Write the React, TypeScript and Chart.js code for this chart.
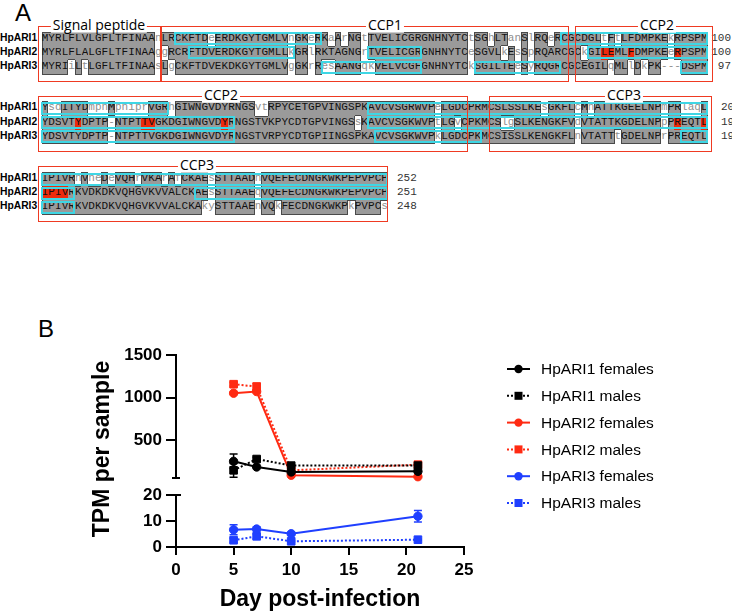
import React, { useEffect, useRef } from "react";
import { Chart, registerables } from "chart.js";
Chart.register(...registerables);

// ---------------- Panel B data ----------------
const days = [5, 7, 10, 21];
const seriesLabels = [
  "HpARI1 females",
  "HpARI1 males",
  "HpARI2 females",
  "HpARI2 males",
  "HpARI3 females",
  "HpARI3 males",
];
const ari1Females = [255, 189, 131, 138];
const ari1FemalesErr = [85, 0, 0, 0];
const ari1Males = [150, 282, 205, 205];
const ari1MalesErr = [80, 20, 0, 0];
const ari2Females = [1053, 1072, 92, 75];
const ari2FemalesErr = [15, 15, 0, 0];
const ari2Males = [1158, 1130, 150, 216];
const ari2MalesErr = [20, 40, 0, 0];
const ari3Females = [6.6, 6.9, 5.1, 11.8];
const ari3FemalesErr = [1.9, 0.8, 0.5, 2.2];
const ari3Males = [2.6, 4.1, 2.2, 2.8];
const ari3MalesErr = [0.8, 0.9, 0.3, 0.3];
const xTicks = [0, 5, 10, 15, 20, 25];
const upperTicks = [500, 1000, 1500];
const lowerTicks = [0, 10, 20];
const xTitle = "Day post-infection";
const yTitle = "TPM per sample";

// ---------------- Panel A data ----------------
const seqNames = ["HpARI1", "HpARI2", "HpARI3"];
const block1 = [
  "MYRLFLVLGFLTFINAAnLRCKFTDeERDKGYTGMLVnGKeRKaArNGtTVELICGRGNHNYTCtSGhLTanSlRQeRCGCDGLtFtLFDMPKEkRPSPM",
  "MYRLFLALGFLTFINAAggRCRFTDVERDKGYTGMLLkGRlRKTAGNGrTVELICGRGNHNYTCeSGVLkEsSpRQARCGCkGILEMLFDMPKEeRPSPM",
  "MYRIiLtLGFLTFINAAsLgCKFTDVEKDKGYTGMLVgGKrResAANGqkVELVCGFGNHNYTCkSGILTEeSyRQGRCGCEGILqMLlDkPK---DSPM",
];
const block2 = [
  "YsdITYDmpnMpniprVGRhGIWNGVDYRNGSvtRPYCETGPVINGSPKAVCVSGRWVPeLGDCPRMCSLSSLKEsGKFLcMnATTKGEELNPmPRlaqL",
  "YDSVTYDPTP-NTPTTVGKDGIWNGVDYRNGSTVKPYCDTGPVINGSsKAVCVSGKWVPtLGvCPKMCSlgSLKENGKFVdVTATTKGDELNPpPREQTL",
  "YDSVTYDPTP-NTPTTVGKDGIWNGVDYRNGSTVRPYCDTGPIINGSPKAVCVSGKWVPkLGDCPKMCSISSLKENGKFLnVTATTtGDELNPrPREQTL",
];
const block3 = [
  "IPIVRnVneDeVQHrVKArAfCKAEsSTTAADnVQEFECDNGKWKPEPVPCP",
  "IPIVRKVDKDKVQHGVKVVALCKAEsSTTAAEqVQEFECDNGKWKPEPVPCP",
  "IPIVRKVDKDKVQHGVKVVALCKAkySTTAAEnVQkFECDNGKWKPkPVPCs",
];
const blocks = [block1, block2, block3];
const endNumbers = [
  ["100", "100", "97"],
  ["200", "199", "196"],
  ["252", "251", "248"],
];
// [block, row, startCol, endCol]
const cyanSegments = [
  [0, 0, 21, 42], [0, 0, 79, 100], [0, 1, 23, 38], [0, 1, 50, 57], [0, 1, 83, 100],
  [0, 2, 43, 57], [0, 2, 66, 78], [0, 2, 97, 100],
  [1, 0, 1, 19], [1, 0, 50, 100], [1, 1, 1, 29], [1, 1, 50, 100], [1, 2, 1, 29],
  [1, 2, 51, 66], [1, 2, 97, 100],
  [2, 0, 1, 52], [2, 1, 1, 5], [2, 1, 24, 52], [2, 2, 1, 5],
];
// [block, row, col]
const redResidues = [
  [0, 1, 85], [0, 1, 86], [0, 1, 89], [0, 1, 96],
  [1, 1, 6], [1, 1, 16], [1, 1, 17], [1, 1, 28], [1, 1, 96], [1, 1, 100],
  [2, 1, 1], [2, 1, 2], [2, 1, 3], [2, 1, 4],
];
const domainLabels = ["Signal peptide", "CCP1", "CCP2", "CCP2", "CCP3", "CCP3"];

// ---------------- layout / style ----------------
const FONT = "'Liberation Sans', Arial, Helvetica, sans-serif";
const MONO = "'Liberation Mono', 'DejaVu Sans Mono', monospace";
const LABEL_FONT = "'Open Sans', 'Liberation Sans', sans-serif";
const CH_W = 6.66;
const SEQ_X = 41.5;
const ROW_H = 14.2;
const blockTops = [31.6, 101.4, 171.9];
const numberPos = [
  { left: 690, width: 41, align: "right" },
  { left: 721, width: 30, align: "left" },
  { left: 397, width: 30, align: "left" },
];
const frames = [
  { l: 38, t: 26, r: 161, b: 82, cx: 99 },
  { l: 161, t: 26, r: 569, b: 82, cx: 385 },
  { l: 575, t: 26, r: 713, b: 82, cx: 657 },
  { l: 38, t: 96, r: 468, b: 152, cx: 221 },
  { l: 489, t: 96, r: 712, b: 152, cx: 624 },
  { l: 38, t: 166, r: 388, b: 222, cx: 197 },
];
const BLACK = "#000000";
const RED = "#ff2a12";
const BLUE = "#1f3fff";
const FRAME_RED = "#ef3a22";
const CYAN = "#3ed6e4";

const isUp = (ch?: string) => !!ch && ch >= "A" && ch <= "Z";

function Alignment() {
  const els: any[] = [];
  blocks.forEach((seqs, b) => {
    const top0 = blockTops[b];
    seqs.forEach((s, r) => {
      const rowTop = top0 + r * ROW_H;
      els.push(
        <div
          key={`n${b}${r}`}
          style={{
            position: "absolute",
            left: 0,
            top: rowTop,
            height: ROW_H,
            lineHeight: `${ROW_H}px`,
            font: `bold 10.3px ${FONT}`,
            color: "#000",
          }}
        >
          {seqNames[r]}
        </div>
      );
      for (let c = 0; c < s.length; c++) {
        const ch = s[c];
        const up = isUp(ch);
        const red = redResidues.some((e) => e[0] === b && e[1] === r && e[2] === c + 1);
        const sh: string[] = [];
        if (up) {
          if (!isUp(s[c - 1])) sh.push("inset 1px 0 0 #4a4a4a");
          if (!isUp(s[c + 1])) sh.push("inset -1px 0 0 #4a4a4a");
          if (r === 0 || !isUp(seqs[r - 1][c])) sh.push("inset 0 1px 0 #4a4a4a");
          if (r === seqs.length - 1 || !isUp(seqs[r + 1][c])) sh.push("inset 0 -1px 0 #4a4a4a");
        }
        els.push(
          <div
            key={`c${b}${r}${c}`}
            style={{
              position: "absolute",
              left: SEQ_X + c * CH_W,
              top: rowTop,
              width: CH_W + 0.3,
              height: ROW_H + 0.3,
              lineHeight: `${ROW_H}px`,
              textAlign: "center",
              font: `11px ${MONO}`,
              background: red ? "#ee2a0c" : up ? "#9a9a9a" : "transparent",
              color: up ? "#111" : "#8f8f8f",
              boxShadow: sh.join(","),
              boxSizing: "border-box",
            }}
          >
            {ch}
          </div>
        );
      }
      const np = numberPos[b];
      els.push(
        <div
          key={`e${b}${r}`}
          style={{
            position: "absolute",
            left: np.left,
            width: np.width,
            textAlign: np.align as any,
            top: rowTop,
            lineHeight: `${ROW_H}px`,
            font: `11px ${MONO}`,
            color: "#333",
            whiteSpace: "nowrap",
          }}
        >
          {endNumbers[b][r]}
        </div>
      );
    });
  });
  cyanSegments.forEach(([b, r, s, e], i) => {
    const rowTop = blockTops[b] + r * ROW_H;
    els.push(
      <div
        key={`cy${i}`}
        style={{
          position: "absolute",
          left: SEQ_X + (s - 1) * CH_W - 0.5,
          top: rowTop + 0.6,
          width: (e - s + 1) * CH_W + 1,
          height: ROW_H - 1.2,
          border: `2px solid ${CYAN}`,
          boxSizing: "border-box",
        }}
      />
    );
  });
  frames.forEach((f, i) => {
    els.push(
      <div
        key={`f${i}`}
        style={{
          position: "absolute",
          left: f.l,
          top: f.t,
          width: f.r - f.l,
          height: f.b - f.t,
          border: `1.6px solid ${FRAME_RED}`,
          boxSizing: "border-box",
        }}
      />
    );
    els.push(
      <div
        key={`fl${i}`}
        style={{
          position: "absolute",
          left: f.cx,
          top: f.t,
          transform: "translate(-50%, -58%)",
          background: "#fff",
          padding: "0 2px",
          font: `14px ${LABEL_FONT}`,
          lineHeight: "16px",
          color: "#000",
          whiteSpace: "nowrap",
        }}
      >
        {domainLabels[i]}
      </div>
    );
  });
  return <>{els}</>;
}

function makeDataset(
  label: string,
  values: number[],
  errs: number[],
  color: string,
  male: boolean,
  axis: string
) {
  return {
    label,
    data: days.map((d, i) => ({ x: d, y: values[i] })),
    errors: errs,
    yAxisID: axis,
    borderColor: color,
    backgroundColor: color,
    pointBackgroundColor: color,
    pointBorderColor: color,
    pointStyle: male ? "rect" : "circle",
    pointRadius: male ? 5.4 : 4.2,
    pointBorderWidth: 1,
    borderWidth: 2,
    borderDash: male ? [2, 2] : [],
    tension: 0,
    clip: false,
  };
}

const errorBarPlugin = {
  id: "errorBars",
  beforeDatasetsDraw(chart: any) {
    const ctx = chart.ctx;
    chart.data.datasets.forEach((ds: any, i: number) => {
      const meta = chart.getDatasetMeta(i);
      const scale = chart.scales[ds.yAxisID];
      meta.data.forEach((pt: any, j: number) => {
        const e = ds.errors[j];
        if (!e) return;
        const v = ds.data[j].y;
        let y1 = scale.getPixelForValue(v + e);
        let y2 = scale.getPixelForValue(v - e);
        const cap1 = y1 >= scale.top;
        const cap2 = y2 <= scale.bottom;
        y1 = Math.max(y1, scale.top);
        y2 = Math.min(y2, scale.bottom);
        ctx.save();
        ctx.strokeStyle = ds.borderColor;
        ctx.lineWidth = 1.5;
        ctx.beginPath();
        ctx.moveTo(pt.x, y1);
        ctx.lineTo(pt.x, y2);
        if (cap1) {
          ctx.moveTo(pt.x - 4, y1);
          ctx.lineTo(pt.x + 4, y1);
        }
        if (cap2) {
          ctx.moveTo(pt.x - 4, y2);
          ctx.lineTo(pt.x + 4, y2);
        }
        ctx.stroke();
        ctx.restore();
      });
    });
  },
};

const decorPlugin = {
  id: "decor",
  afterDraw(chart: any) {
    const ctx = chart.ctx;
    const top = chart.scales.yTop;
    const bot = chart.scales.yBot;
    const x = chart.chartArea.left;
    ctx.save();
    ctx.strokeStyle = "#000";
    ctx.lineWidth = 2;
    ctx.beginPath();
    ctx.moveTo(x, top.getPixelForValue(upperTicks[upperTicks.length - 1]) - 1);
    ctx.lineTo(x, top.bottom);
    ctx.moveTo(x - 4, top.bottom);
    ctx.lineTo(x + 4, top.bottom);
    const y20 = bot.getPixelForValue(lowerTicks[lowerTicks.length - 1]);
    ctx.moveTo(x, y20 - 1);
    ctx.lineTo(x, bot.getPixelForValue(0));
    ctx.moveTo(x, y20);
    ctx.lineTo(x + 5, y20);
    ctx.stroke();

    // y title
    ctx.translate(108.5, 149);
    ctx.rotate(-Math.PI / 2);
    ctx.fillStyle = "#000";
    ctx.font = `bold 23px ${FONT}`;
    ctx.textAlign = "center";
    ctx.textBaseline = "alphabetic";
    ctx.fillText(yTitle, 0, 0);
    ctx.restore();

    // legend
    ctx.save();
    chart.data.datasets.forEach((ds: any, i: number) => {
      const y = 69 + i * 26.8;
      ctx.strokeStyle = ds.borderColor;
      ctx.fillStyle = ds.borderColor;
      ctx.lineWidth = 2;
      ctx.setLineDash(ds.borderDash.length ? [2, 2] : []);
      ctx.beginPath();
      ctx.moveTo(507, y);
      ctx.lineTo(530, y);
      ctx.stroke();
      ctx.setLineDash([]);
      if (ds.pointStyle === "rect") {
        ctx.fillRect(518.5 - 4, y - 4, 8, 8);
      } else {
        ctx.beginPath();
        ctx.arc(518.5, y, 4.2, 0, Math.PI * 2);
        ctx.fill();
      }
      ctx.fillStyle = "#000";
      ctx.font = `15.5px ${FONT}`;
      ctx.textAlign = "left";
      ctx.textBaseline = "middle";
      ctx.fillText(ds.label, 541, y + 1);
    });
    ctx.restore();
  },
};

function LineChart() {
  const ref = useRef<HTMLCanvasElement>(null);
  useEffect(() => {
    const tickFont = { family: FONT, size: 17, weight: "bold" as const };
    const chart = new Chart(ref.current as HTMLCanvasElement, {
      type: "line",
      data: {
        datasets: [
          makeDataset(seriesLabels[0], ari1Females, ari1FemalesErr, BLACK, false, "yTop"),
          makeDataset(seriesLabels[1], ari1Males, ari1MalesErr, BLACK, true, "yTop"),
          makeDataset(seriesLabels[2], ari2Females, ari2FemalesErr, RED, false, "yTop"),
          makeDataset(seriesLabels[3], ari2Males, ari2MalesErr, RED, true, "yTop"),
          makeDataset(seriesLabels[4], ari3Females, ari3FemalesErr, BLUE, false, "yBot"),
          makeDataset(seriesLabels[5], ari3Males, ari3MalesErr, BLUE, true, "yBot"),
        ] as any,
      },
      options: {
        responsive: false,
        animation: false,
        layout: { padding: { left: 0, right: 268, top: 55, bottom: 0 } },
        plugins: { legend: { display: false }, tooltip: { enabled: false } },
        scales: {
          x: {
            type: "linear",
            position: "bottom",
            min: 0,
            max: 25,
            afterBuildTicks: (s: any) => {
              s.ticks = xTicks.map((v) => ({ value: v }));
            },
            afterFit: (s: any) => {
              s.height = 66;
            },
            ticks: { color: "#000", font: tickFont, padding: 5, autoSkip: false, maxRotation: 0, callback: (v: any) => String(v) },
            grid: { drawOnChartArea: false, tickLength: 8, color: "#000", tickColor: "#000", lineWidth: 2, tickWidth: 2 },
            border: { color: "#000", width: 2 },
            title: {
              display: true,
              text: xTitle,
              color: "#000",
              font: { family: FONT, size: 23, weight: "bold" },
              padding: { top: 0, bottom: 0 },
            },
          },
          yBot: {
            type: "linear",
            position: "left",
            stack: "y",
            stackWeight: 69,
            min: 0,
            max: 26.5,
            afterBuildTicks: (s: any) => {
              s.ticks = lowerTicks.map((v) => ({ value: v }));
            },
            afterFit: (s: any) => {
              s.width = 176;
            },
            ticks: { color: "#000", font: tickFont, padding: 4, autoSkip: false, callback: (v: any) => String(v) },
            grid: { drawOnChartArea: false, tickLength: 10, color: "#000", tickColor: "#000", lineWidth: 2, tickWidth: 2 },
            border: { display: false },
          },
          yTop: {
            type: "linear",
            position: "left",
            stack: "y",
            stackWeight: 123,
            min: 60,
            max: 1500,
            afterBuildTicks: (s: any) => {
              s.ticks = upperTicks.map((v) => ({ value: v }));
            },
            afterFit: (s: any) => {
              s.width = 176;
            },
            ticks: { color: "#000", font: tickFont, padding: 4, autoSkip: false, callback: (v: any) => String(v) },
            grid: { drawOnChartArea: false, tickLength: 10, color: "#000", tickColor: "#000", lineWidth: 2, tickWidth: 2 },
            border: { display: false },
          },
        } as any,
      },
      plugins: [errorBarPlugin, decorPlugin],
    });
    return () => chart.destroy();
  }, []);
  return (
    <canvas
      ref={ref}
      width={732}
      height={313}
      style={{ position: "absolute", left: 0, top: 300, width: 732, height: 313 }}
    />
  );
}

export default function App() {
  return (
    <div
      style={{
        position: "absolute",
        left: 0,
        top: 0,
        width: 732,
        height: 613,
        background: "#fff",
        overflow: "hidden",
      }}
    >
      <div style={{ position: "absolute", left: 15, top: 1, font: `24px ${FONT}`, lineHeight: "24px" }}>A</div>
      <Alignment />
      <div style={{ position: "absolute", left: 38, top: 317, font: `24px ${FONT}`, lineHeight: "24px" }}>B</div>
      <LineChart />
    </div>
  );
}
